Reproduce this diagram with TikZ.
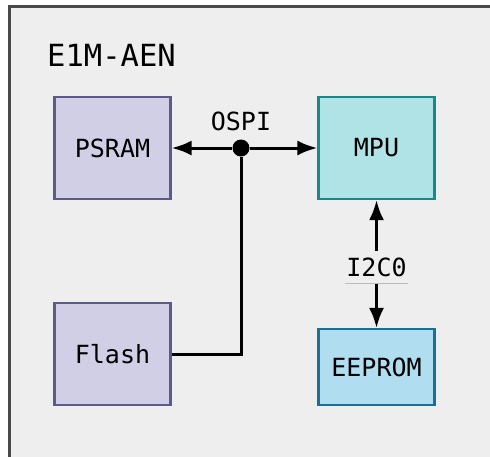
\documentclass[tikz,border=0pt]{standalone}
\usepackage{fontspec}
\setmonofont{DejaVu Sans Mono}
\usepackage{xcolor}
\usepackage{tikz}
\usetikzlibrary{arrows.meta}

\definecolor{bgpanel}{HTML}{EEEEEE}
\definecolor{framegray}{HTML}{4A4A4A}
\definecolor{memfill}{HTML}{D1CFE6}
\definecolor{memdraw}{HTML}{5D5A8A}
\definecolor{mpufill}{HTML}{B0E3E5}
\definecolor{mpudraw}{HTML}{17888C}
\definecolor{eepfill}{HTML}{B0DDF0}
\definecolor{eepdraw}{HTML}{1A6F99}
\definecolor{rulegray}{HTML}{BBBBBB}

\tikzset{
  chip/.style={draw, line width=2.2pt, inner sep=0pt, minimum width=116pt,
    minimum height=102pt, font=\ttfamily\fontsize{25}{30}\selectfont},
  memchip/.style={chip, fill=memfill, draw=memdraw},
  buslabel/.style={font=\ttfamily\fontsize{25}{30}\selectfont, inner sep=2pt},
  wire/.style={line width=3pt, draw=black},
  tip/.style={-{Latex[length=20pt,width=15pt]}}
}

\begin{document}
\begin{tikzpicture}[x=1pt, y=-1pt]
  \useasboundingbox (0,0) rectangle (490,456);
  \clip (0,0) rectangle (490,456);

  % board outline
  \draw[line width=2.4pt, draw=framegray, fill=bgpanel] (9.5,6.5) rectangle (520,480);
  \node[anchor=base west, inner sep=0pt, font=\ttfamily\fontsize{30.5}{36}\selectfont] (title) at (47,66) {E1M-AEN};

  % blocks
  \node[memchip] (psram) at (112.5,148) {PSRAM};
  \node[memchip] (flash) at (112.5,354) {Flash};
  \node[chip, fill=mpufill, draw=mpudraw] (mpu) at (376.5,148) {MPU};
  \node[chip, fill=eepfill, draw=eepdraw, minimum height=76pt] (eeprom) at (376.5,367) {EEPROM};

  % OSPI bus
  \node[circle, fill=black, minimum size=17pt, inner sep=0pt] (busdot) at (241,148) {};
  \node[buslabel, anchor=base] (ospi) at (241,130) {OSPI};
  \coordinate (bend) at (241,354);
  \draw[wire, tip] (busdot) -- (psram);
  \draw[wire, tip] (busdot) -- (mpu);
  \draw[wire] (flash) -- (bend) -- (busdot);

  % I2C0 link
  \draw[wire, {Latex[length=20pt,width=15pt]}-{Latex[length=20pt,width=15pt]}] (mpu) -- (eeprom);
  \node[buslabel, fill=bgpanel, inner sep=0pt, minimum width=63pt, minimum height=32pt] (iic) at (376.5,267) {I2C0};
  \draw[line width=0.8pt, draw=rulegray] (iic.south west) -- (iic.south east);
\end{tikzpicture}
\end{document}
